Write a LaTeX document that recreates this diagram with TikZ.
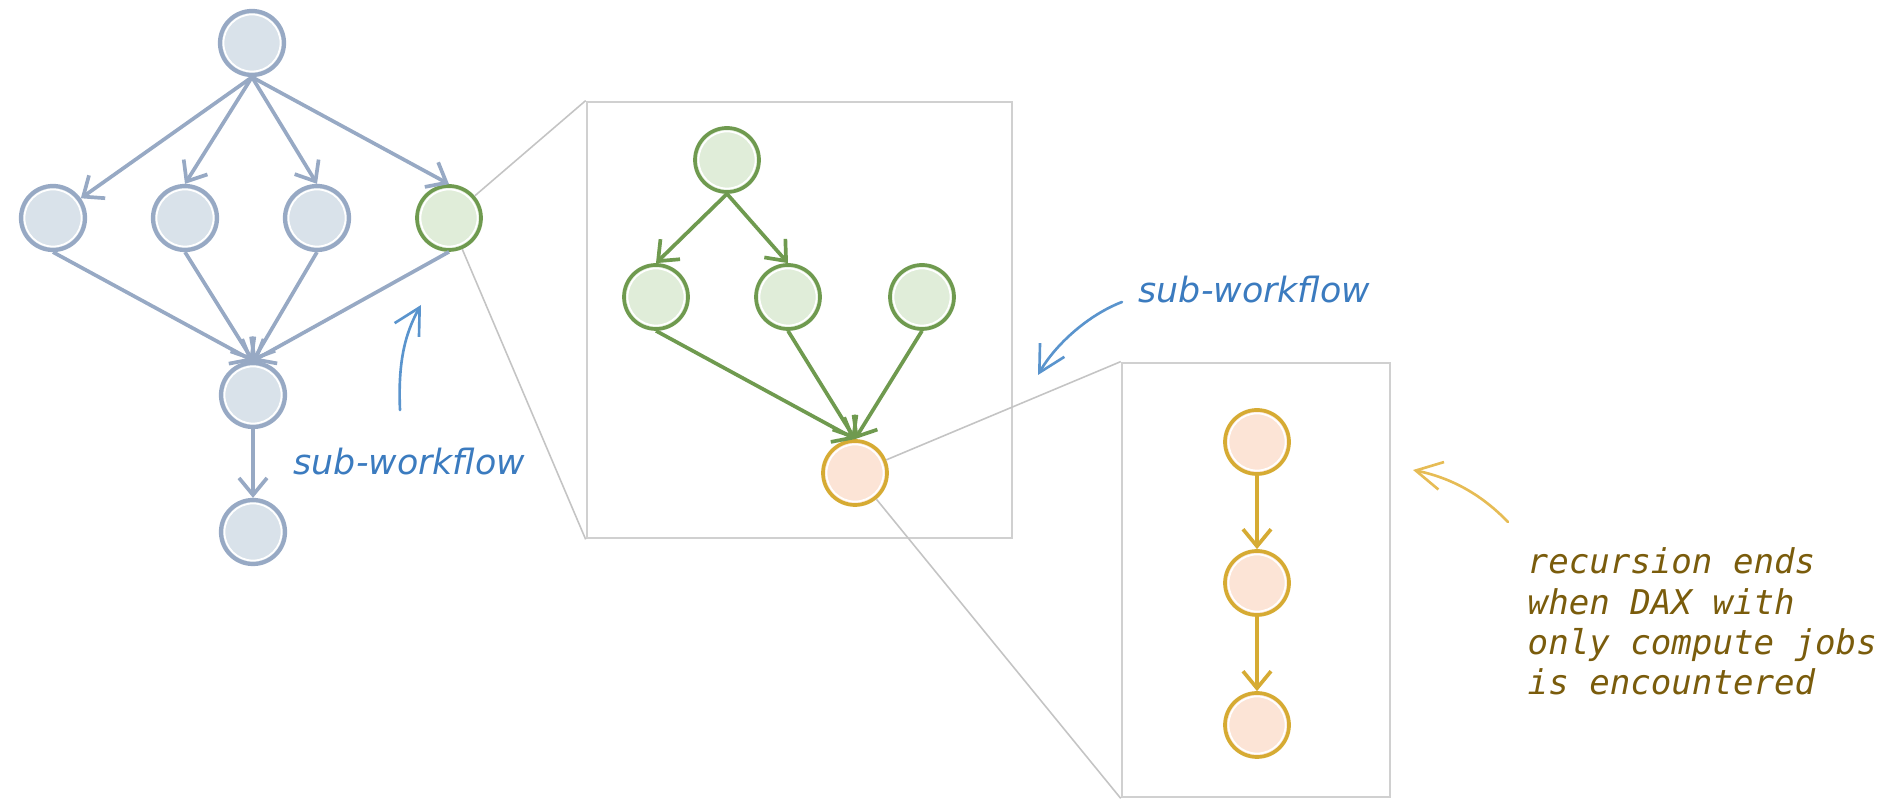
\documentclass[tikz,border=0pt]{standalone}
\usepackage{fontspec}
\usetikzlibrary{arrows.meta}
\newfontfamily\labelfont{DejaVu Sans}
\newfontfamily\notefont{DejaVu Sans Mono}
\definecolor{blueS}{HTML}{97A9C4}
\definecolor{blueF}{HTML}{D9E2EA}
\definecolor{greenS}{HTML}{6F9A4F}
\definecolor{greenF}{HTML}{E0EDD9}
\definecolor{orS}{HTML}{D6AB33}
\definecolor{orF}{HTML}{FCE4D6}
\definecolor{boxC}{HTML}{D0D0D0}
\definecolor{zoomC}{HTML}{C4C4C4}
\definecolor{annB}{HTML}{5A94CD}
\definecolor{txtB}{HTML}{3B7BBF}
\definecolor{annO}{HTML}{E6BC55}
\definecolor{txtO}{HTML}{7A5C0C}
\tikzset{
  jobnode/.style={circle, inner sep=0pt, minimum size=0.64cm, line width=1.2pt,
    path picture={\draw[white, line width=0.5pt] (path picture bounding box.center) circle (0.285cm);}},
  bluejob/.style={jobnode, draw=blueS, fill=blueF},
  greenjob/.style={jobnode, draw=greenS, fill=greenF, line width=1.05pt},
  orjob/.style={jobnode, draw=orS, fill=orF, line width=1.05pt},
  edge/.style={line width=1.05pt, -{Straight Barb[length=1.7mm, width=2.8mm]}},
  blueedge/.style={edge, draw=blueS},
  greenedge/.style={edge, draw=greenS},
  oredge/.style={edge, draw=orS},
  framebox/.style={draw=boxC, line width=0.7pt, fill=white, inner sep=0pt},
  zoomline/.style={draw=zoomC, line width=0.45pt},
  annot/.style={line width=0.75pt, line cap=round, -{Straight Barb[length=2.6mm, width=2.8mm]}},
}
\begin{document}
\begin{tikzpicture}[x=0.01cm, y=-0.01cm]
\useasboundingbox (0,0) rectangle (1893,801);

% boxes
\node[framebox, minimum width=4.25cm, minimum height=4.36cm] (box1) at (799.5,320) {};
\node[framebox, minimum width=2.68cm, minimum height=4.34cm] (box2) at (1256,580) {};

% main workflow
\node[bluejob] (b0) at (252,43) {};
\node[bluejob] (b1) at (53,218) {};
\node[bluejob] (b2) at (185,218) {};
\node[bluejob] (b3) at (317,218) {};
\node[greenjob] (g0) at (449,218) {};
\node[bluejob] (b5) at (253,395) {};
\node[bluejob] (b6) at (253,532) {};

% sub-workflow 1
\node[greenjob] (g1) at (727,160) {};
\node[greenjob] (g2) at (656,297) {};
\node[greenjob] (g3) at (788,297) {};
\node[greenjob] (g4) at (922,297) {};
\node[orjob] (o0) at (855,473) {};

% sub-workflow 2
\node[orjob] (o1) at (1257,442) {};
\node[orjob] (o2) at (1257,583) {};
\node[orjob] (o3) at (1257,725) {};

% zoom lines
\draw[zoomline] (g0) -- (box1.north west);
\draw[zoomline] (g0) -- (box1.south west);
\draw[zoomline] (o0) -- (box2.north west);
\draw[zoomline] (o0) -- (box2.south west);

% edges main
\draw[blueedge] (b0.south) -- (b1);
\draw[blueedge] (b0.south) -- (b2.north);
\draw[blueedge] (b0.south) -- (b3.north);
\draw[blueedge] (b0.south) -- (g0.north);
\draw[blueedge] (b1.south) -- (b5.north);
\draw[blueedge] (b2.south) -- (b5.north);
\draw[blueedge] (b3.south) -- (b5.north);
\draw[blueedge] (g0.south) -- (b5.north);
\draw[blueedge] (b5) -- (b6);

% edges sub 1
\draw[greenedge] (g1.south) -- (g2.north);
\draw[greenedge] (g1.south) -- (g3.north);
\draw[greenedge] (g2.south) -- (o0.north);
\draw[greenedge] (g3.south) -- (o0.north);
\draw[greenedge] (g4.south) -- (o0.north);

% edges sub 2
\draw[oredge] (o1) -- (o2);
\draw[oredge] (o2) -- (o3);

% annotations
\node[anchor=base west, inner sep=0pt, font=\labelfont\itshape\fontsize{9.9pt}{11pt}\selectfont, text=txtB] (lab1) at (293,475) {sub-workflow};
\node[anchor=base west, inner sep=0pt, font=\labelfont\itshape\fontsize{9.9pt}{11pt}\selectfont, text=txtB] (lab2) at (1138,303) {sub-workflow};
\node[anchor=base west, inner sep=0pt, align=left, font=\notefont\itshape\fontsize{9.7pt}{11.5pt}\selectfont, text=txtO] (note) at (1527,695) {recursion ends\\when DAX with\\only compute jobs\\is encountered};

\coordinate (a1s) at (400,410);
\coordinate (a1e) at (421,305);
\draw[annot, draw=annB] (a1s) .. controls (398,365) and (404,335) .. (a1e);
\coordinate (a2s) at (1122,302);
\coordinate (a2e) at (1038,375);
\draw[annot, draw=annB] (a2s) .. controls (1088,315) and (1055,345) .. (a2e);
\coordinate (a3s) at (1508,522);
\coordinate (a3e) at (1413,470);
\draw[annot, draw=annO] (a3s) .. controls (1482,495) and (1452,478) .. (a3e);
\end{tikzpicture}
\end{document}
